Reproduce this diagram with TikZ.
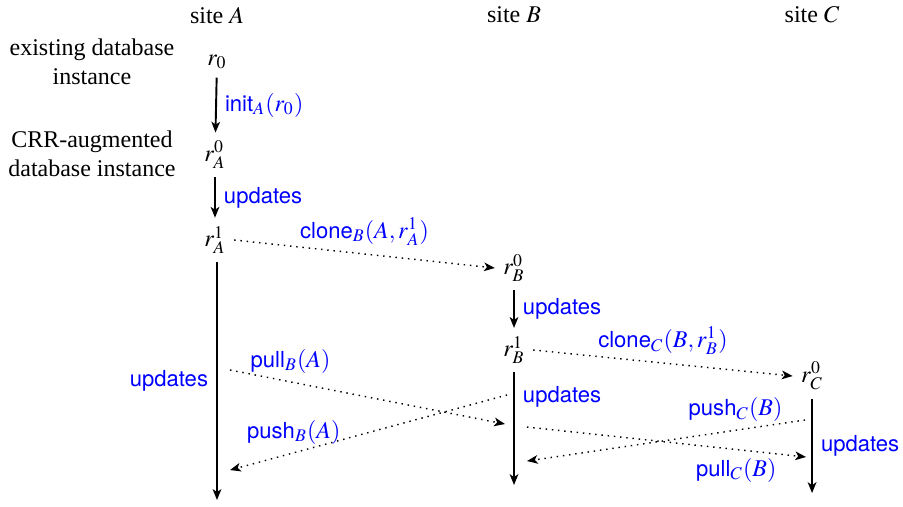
\documentclass[tikz,border=0pt]{standalone}
\usepackage{mathptmx}
\usepackage[no-math]{fontspec}
\setmainfont{Liberation Serif}
\setsansfont{TeX Gyre Heros}[Scale=0.92]
\usetikzlibrary{arrows.meta}

\begin{document}
\begin{tikzpicture}[
        flow/.style = {thick, -{Stealth[length=4.5pt, width=3.6pt, inset=1.2pt]}},
        msg/.style = {dotted, line width=0.6pt, -{Stealth[length=4.5pt, width=3.6pt, inset=1.2pt]}},
        lbl/.style = {blue, font=\sffamily}]
        \useasboundingbox (0, 0) rectangle (13.225, 7.411);

        % sites
        \node (siteA) at (3.178, 7.19) {site $A$};
        \node (siteB) at (7.528, 7.19) {site $B$};
        \node (siteC) at (11.893, 7.19) {site $C$};

        \node[align=center] (existing) at (1.347, 6.503) {existing database\\instance};
        \node[align=center] (augmented) at (1.347, 5.156) {CRR-augmented\\database instance};

        % instances
        \node (r0) at (3.178, 6.503) {$r_0$};
        \node (rA0) at (3.149, 5.141) {$r_A^0$};
        \node (rA1) at (3.149, 3.896) {$r_A^1$};
        \node (rB0) at (7.528, 3.486) {$r_B^0$};
        \node (rB1) at (7.528, 2.285) {$r_B^1$};
        \node (rC0) at (11.893, 1.904) {$r_C^0$};

        \coordinate (endA) at (3.178, 0.088);
        \coordinate (endB) at (7.528, 0.308);
        \coordinate (endC) at (11.893, 0.190);

        % message end points
        \coordinate (pullBs) at (3.369, 1.992);
        \coordinate (pullBe) at (7.396, 1.201);
        \coordinate (pushBs) at (7.426, 1.626);
        \coordinate (pushBe) at (3.369, 0.527);
        \coordinate (pullCs) at (7.718, 1.157);
        \coordinate (pullCe) at (11.805, 0.718);
        \coordinate (pushCs) at (11.790, 1.260);
        \coordinate (pushCe) at (7.718, 0.659);

        % local updates
        \draw[flow] (r0) -- node[lbl, right] {init$_A(r_0)$} (rA0);
        \draw[flow] (rA0) -- node[lbl, right] {updates} (rA1);
        \draw[flow] (rA1.south -| r0) -- node[lbl, left] {updates} (endA);
        \draw[flow] (rB0) -- node[lbl, right] {updates} (rB1);
        \draw[flow] (rB1) -- node[lbl, right, pos=0.22] {updates} (endB);
        \draw[flow] (rC0) -- node[lbl, right] {updates} (endC);

        % cloning
        \draw[msg] (rA1.east) -- node[lbl, above] {clone$_B(A, r_A^1)$} (rB0.west);
        \draw[msg] (rB1.east) -- node[lbl, above] {clone$_C(B, r_B^1)$} (rC0.west);

        % synchronisation
        \draw[msg] (pullBs) -- node[lbl, above, pos=0.22] {pull$_B(A)$} (pullBe);
        \draw[msg] (pushBs) -- node[lbl, above, pos=0.77] {push$_B(A)$} (pushBe);
        \draw[msg] (pullCs) -- node[lbl, below, pos=0.75] {pull$_C(B)$} (pullCe);
        \draw[msg] (pushCs) -- node[lbl, above, pos=0.25] {push$_C(B)$} (pushCe);
    \end{tikzpicture}
\end{document}
